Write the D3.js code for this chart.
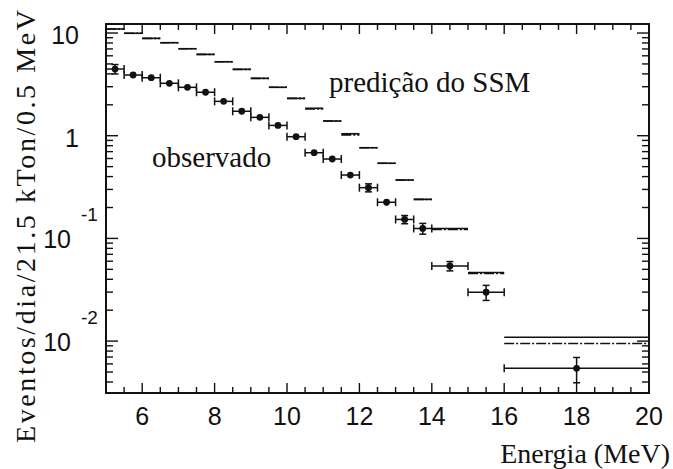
<!DOCTYPE html>
<html>
<head>
<meta charset="utf-8">
<script src="https://cdn.jsdelivr.net/npm/d3@7"></script>
<style>
  body { margin: 0; background: #fff; }
</style>
</head>
<body>
<svg id="grafico" width="673" height="469"></svg>
<script>
// limites dos bins de energia (MeV)
var binLo = [5, 5.5, 6, 6.5, 7, 7.5, 8, 8.5, 9, 9.5, 10, 10.5, 11, 11.5, 12, 12.5, 13, 13.5, 14, 15, 16];
var binHi = [5.5, 6, 6.5, 7, 7.5, 8, 8.5, 9, 9.5, 10, 10.5, 11, 11.5, 12, 12.5, 13, 13.5, 14, 15, 16, 20];
var binCentro = [5.25, 5.75, 6.25, 6.75, 7.25, 7.75, 8.25, 8.75, 9.25, 9.75, 10.25, 10.75, 11.25, 11.75, 12.25, 12.75, 13.25, 13.75, 14.5, 15.5, 18];

// eventos observados e erro
var observado = [4.46, 3.90, 3.67, 3.24, 2.96, 2.65, 2.16, 1.73, 1.51, 1.26, 0.978, 0.683, 0.593, 0.414, 0.312, 0.225, 0.153, 0.125, 0.0539, 0.0299, 0.00543];
var erroObs = [0.47, 0.08, 0.07, 0.06, 0.05, 0.05, 0.04, 0.035, 0.03, 0.028, 0.025, 0.02, 0.018, 0.014, 0.028, 0.016, 0.014, 0.015, 0.0056, 0.005, 0.0015];

// predição do SSM (linha cheia) e segunda curva (traço-ponto)
var ssm = [10.94, 9.94, 8.87, 8.05, 7.03, 6.19, 5.25, 4.43, 3.62, 2.96, 2.31, 1.85, 1.39, 1.045, 0.764, 0.539, 0.370, 0.240, 0.125, 0.0465, 0.0109];
var ssmTraco = [10.94, 9.94, 8.87, 8.05, 7.03, 6.19, 5.25, 4.43, 3.62, 2.96, 2.31, 1.82, 1.39, 1.02, 0.764, 0.539, 0.370, 0.240, 0.122, 0.0455, 0.00947];

// eixos
var xTicks = [6, 8, 10, 12, 14, 16, 18, 20];
var yTicks = [10, 1, 0.1, 0.01];
var yBase = ["10", "1", "10", "10"];
var yExp = ["", "", "-1", "-2"];

var svg = d3.select("#grafico");
var esq = 106, dir = 649, topo = 24, base = 393;

var x = d3.scaleLinear().domain([5, 20]).range([esq, dir]);
var y = d3.scaleLog().domain([0.003125, 12.24]).range([base, topo]);

// um nome só por fonte
var sans = "Liberation Sans";
var serif = "Liberation Serif";

//////////////////// TICKS (para dentro, nos 4 lados) ////////////////////
var gTick = svg.append("g").attr("stroke", "#111").attr("stroke-width", 1.4);

var xMenor = x.ticks(30).filter(d => xTicks.indexOf(d) < 0 && d > 5 && d < 20);
xMenor.forEach(function(d) {
  gTick.append("line").attr("x1", x(d)).attr("x2", x(d)).attr("y1", base).attr("y2", base - 6);
  gTick.append("line").attr("x1", x(d)).attr("x2", x(d)).attr("y1", topo).attr("y2", topo + 6);
});
xTicks.forEach(function(d) {
  gTick.append("line").attr("x1", x(d)).attr("x2", x(d)).attr("y1", base).attr("y2", base - 10);
  gTick.append("line").attr("x1", x(d)).attr("x2", x(d)).attr("y1", topo).attr("y2", topo + 10);
});

var yMenor = y.ticks().filter(d => yTicks.indexOf(d) < 0);
yMenor.forEach(function(d) {
  gTick.append("line").attr("x1", esq).attr("x2", esq + 7).attr("y1", y(d)).attr("y2", y(d));
  gTick.append("line").attr("x1", dir).attr("x2", dir - 7).attr("y1", y(d)).attr("y2", y(d));
});
yTicks.forEach(function(d) {
  gTick.append("line").attr("x1", esq).attr("x2", esq + 12).attr("y1", y(d)).attr("y2", y(d));
  gTick.append("line").attr("x1", dir).attr("x2", dir - 12).attr("y1", y(d)).attr("y2", y(d));
});

// rótulos do eixo x
svg.append("g").selectAll("text")
  .data(xTicks)
  .enter().append("text")
  .attr("x", d => x(d))
  .attr("y", base + 32)
  .attr("text-anchor", "middle")
  .attr("font-family", sans)
  .attr("font-size", 25)
  .attr("fill", "#111")
  .text(d => d);

// rótulos do eixo y (10, 1, 10^-1, 10^-2)
yTicks.forEach(function(d, i) {
  if (yExp[i] === "") {
    svg.append("text")
      .attr("x", 79).attr("y", y(d) + 11)
      .attr("text-anchor", "end")
      .attr("font-family", sans).attr("font-size", 25).attr("fill", "#111")
      .text(yBase[i]);
  } else {
    svg.append("text")
      .attr("x", 71).attr("y", y(d) + 10)
      .attr("text-anchor", "end")
      .attr("font-family", sans).attr("font-size", 25).attr("fill", "#111")
      .text(yBase[i]);
    svg.append("text")
      .attr("x", 81).attr("y", y(d) - 17)
      .attr("text-anchor", "start")
      .attr("font-family", sans).attr("font-size", 19).attr("fill", "#111")
      .text(yExp[i]);
  }
});

//////////////////// PREDIÇÃO DO SSM ////////////////////
svg.append("g").selectAll("line")
  .data(ssm)
  .enter().append("line")
  .attr("x1", (d, i) => x(binLo[i]))
  .attr("x2", (d, i) => x(binHi[i]))
  .attr("y1", d => y(d))
  .attr("y2", d => y(d))
  .attr("stroke", "#111")
  .attr("stroke-width", 1.6);

svg.append("g").selectAll("line")
  .data(ssmTraco)
  .enter().append("line")
  .attr("x1", (d, i) => x(binLo[i]))
  .attr("x2", (d, i) => x(binHi[i]))
  .attr("y1", d => y(d))
  .attr("y2", d => y(d))
  .attr("stroke", "#111")
  .attr("stroke-width", 1.6)
  .attr("stroke-dasharray", "10,2,2,2");

//////////////////// OBSERVADO ////////////////////
var gObs = svg.append("g").attr("stroke", "#111").attr("stroke-width", 1.5);
observado.forEach(function(v, i) {
  var cy = y(v), cx = x(binCentro[i]);
  // barra horizontal (largura do bin) com pontas
  gObs.append("line").attr("x1", x(binLo[i])).attr("x2", x(binHi[i])).attr("y1", cy).attr("y2", cy);
  gObs.append("line").attr("x1", x(binLo[i])).attr("x2", x(binLo[i])).attr("y1", cy - 4).attr("y2", cy + 4);
  gObs.append("line").attr("x1", x(binHi[i])).attr("x2", x(binHi[i])).attr("y1", cy - 4).attr("y2", cy + 4);
  // barra vertical de erro
  var yHi = y(v + erroObs[i]), yLo = y(v - erroObs[i]);
  gObs.append("line").attr("x1", cx).attr("x2", cx).attr("y1", yHi).attr("y2", yLo);
  if (yLo - yHi > 7) {
    gObs.append("line").attr("x1", cx - 3.5).attr("x2", cx + 3.5).attr("y1", yHi).attr("y2", yHi);
    gObs.append("line").attr("x1", cx - 3.5).attr("x2", cx + 3.5).attr("y1", yLo).attr("y2", yLo);
  }
});
svg.append("g").selectAll("circle")
  .data(observado)
  .enter().append("circle")
  .attr("cx", (d, i) => x(binCentro[i]))
  .attr("cy", d => y(d))
  .attr("r", 3.4)
  .attr("fill", "#111");

// moldura
svg.append("rect")
  .attr("x", esq).attr("y", topo)
  .attr("width", dir - esq).attr("height", base - topo)
  .attr("fill", "none").attr("stroke", "#111").attr("stroke-width", 2);

//////////////////// TEXTOS ////////////////////
svg.append("text")
  .attr("x", 329).attr("y", 92)
  .attr("font-family", serif).attr("font-size", 29).attr("fill", "#111")
  .text("predição do SSM");

svg.append("text")
  .attr("x", 152).attr("y", 167)
  .attr("font-family", serif).attr("font-size", 29).attr("fill", "#111")
  .text("observado");

svg.append("text")
  .attr("x", 670).attr("y", 463)
  .attr("text-anchor", "end")
  .attr("font-family", serif).attr("font-size", 28).attr("fill", "#111")
  .text("Energia (MeV)");

svg.append("text")
  .attr("transform", "translate(35,443) rotate(-90)")
  .attr("x", 0).attr("y", 0)
  .attr("textLength", 433)
  .attr("lengthAdjust", "spacing")
  .attr("font-family", serif).attr("font-size", 28).attr("fill", "#111")
  .text("Eventos/dia/21.5 kTon/0.5 MeV");
</script>
</body>
</html>
